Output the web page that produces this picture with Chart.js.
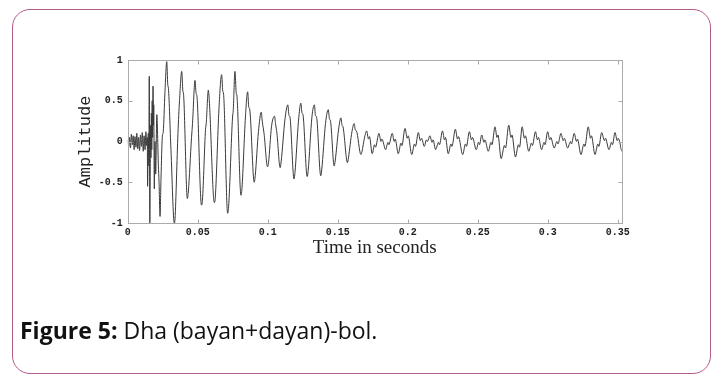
<!DOCTYPE html>
<html>
<head>
<meta charset="utf-8">
<script src="https://cdn.jsdelivr.net/npm/chart.js@4.4.1/dist/chart.umd.min.js"></script>
<style>
  html, body { margin: 0; padding: 0; background: #fff; }
  #page { position: relative; width: 723px; height: 374px; overflow: hidden; }
  #frame { position: absolute; left: 12px; top: 9px; width: 697px; height: 363px;
           border: 1.5px solid #b35a8f; border-radius: 18px; }
  #wrap { position: absolute; left: 0; top: 0; width: 723px; height: 374px; }
  #caption { position: absolute; left: 20px; top: 314px; font-family: "Open Sans", sans-serif;
             font-size: 23px; color: #111; white-space: nowrap; }
  #caption b { font-weight: 700; }
</style>
</head>
<body>
<div id="page">
  <div id="frame"></div>
  <div id="wrap"><canvas id="wave"></canvas></div>
  <div id="caption"><b>Figure 5:</b> Dha (bayan+dayan)-bol.</div>
</div>
<script>
// tick labels
const xTicks = [0, 0.05, 0.1, 0.15, 0.2, 0.25, 0.3, 0.35]
const yTicks = [-1, -0.5, 0, 0.5, 1]

// pre-onset noise
const noiseT = [0, 0.0007, 0.0013, 0.002, 0.0026, 0.0033, 0.0039, 0.0046, 0.0052, 0.0059, 0.0065,
  0.0072, 0.0078, 0.0085, 0.0091, 0.0098, 0.0104, 0.0111, 0.0117, 0.0124, 0.013, 0.0136]
const noiseA = [0.02, -0.06, 0.05, -0.08, 0.09, -0.04, 0.07, -0.1, 0.06, -0.07, 0.1,
  -0.09, 0.05, -0.11, 0.08, -0.06, 0.11, -0.12, 0.07, -0.1, 0.12, -0.05]

// stroke (attack)
const attackT = [0.014, 0.0142, 0.0147, 0.0151, 0.0154, 0.0158, 0.0161, 0.0164, 0.0166, 0.0169,
  0.0172, 0.0175, 0.0178, 0.0181, 0.0184, 0.0186, 0.019, 0.0195, 0.02, 0.0208,
  0.0219, 0.0224, 0.0231, 0.0238, 0.0247, 0.0254, 0.0266, 0.0279, 0.0286, 0.0291]
const attackA = [0.05, -0.55, 0.1, -0.3, 0.8, -1.0, -0.35, 0.2, -0.2, 0.35,
  -0.1, 0.5, 0.05, 0.68, 0.2, 0.45, -0.58, 0, -0.4, 0.33,
  -0.29, -0.5, -0.92, -0.45, 0.05, 0.12, 0.6, 0.98, 0.7, 0.65]

// decay
const decayT = [0.0309, 0.0333, 0.0338, 0.0359, 0.037, 0.0386, 0.0394, 0.0399, 0.0426, 0.0433,
  0.0456, 0.0463, 0.0481, 0.0488, 0.0495, 0.0527, 0.0534, 0.0556, 0.0561, 0.0576,
  0.0583, 0.0619, 0.0626, 0.0652, 0.0671, 0.0679, 0.0685, 0.0714, 0.0721, 0.0749,
  0.0754, 0.0766, 0.0775, 0.0781, 0.0809, 0.0816, 0.0841, 0.0857, 0.0865, 0.0871,
  0.0904, 0.0911, 0.0934, 0.0954, 0.0961, 0.0974, 0.0999, 0.1006, 0.1027, 0.1049,
  0.1056, 0.1066, 0.1089, 0.1096, 0.1124, 0.1144, 0.1152, 0.1159, 0.1188, 0.1195,
  0.122, 0.1237, 0.1245, 0.1252, 0.1282, 0.1289, 0.1316, 0.1334, 0.1341, 0.1349,
  0.1379, 0.1386, 0.1413, 0.1433, 0.1441, 0.1449, 0.1475, 0.1482, 0.1506, 0.1523,
  0.1531, 0.1538, 0.157, 0.1577, 0.1602, 0.1618, 0.1626, 0.1634, 0.1666, 0.1674, 0.1691]
const decayA = [-0.1, -1.0, -0.95, 0.1, 0.5, 0.86, 0.62, 0.58, -0.7, -0.62,
  0.05, 0.22, 0.75, 0.6, 0.55, -0.78, -0.72, 0.15, 0.22, 0.63,
  0.5, -0.75, -0.68, 0.4, 0.82, 0.62, 0.58, -0.88, -0.8, 0.3,
  0.38, 0.86, 0.6, 0.55, -0.66, -0.58, 0.3, 0.61, 0.42, 0.4,
  -0.5, -0.42, 0.12, 0.36, 0.25, 0.1, -0.31, -0.26, 0.18, 0.31,
  0.22, 0.1, -0.32, -0.25, 0.28, 0.45, 0.32, 0.3, -0.46, -0.38,
  0.25, 0.47, 0.35, 0.33, -0.43, -0.36, 0.3, 0.45, 0.32, 0.3,
  -0.42, -0.35, 0.22, 0.39, 0.28, 0.25, -0.3, -0.24, 0.14, 0.29,
  0.2, 0.18, -0.26, -0.2, 0.12, 0.22, 0.14, 0.13, -0.16, -0.12, 0.04]

// sustained tail
const tailT = [0.1707, 0.172, 0.1727, 0.1747, 0.1763, 0.177, 0.1795, 0.1809, 0.1816, 0.1843,
  0.1859, 0.1866, 0.189, 0.1904, 0.1911, 0.1933, 0.1952, 0.1959, 0.1981, 0.1997,
  0.2004, 0.2029, 0.2049, 0.2056, 0.2076, 0.2091, 0.2099, 0.2119, 0.2134, 0.2141,
  0.2159, 0.2174, 0.2181, 0.22, 0.222, 0.2227, 0.2249, 0.2263, 0.227, 0.229,
  0.2309, 0.2316, 0.2341, 0.2356, 0.2363, 0.2393, 0.2413, 0.242, 0.2441, 0.2456,
  0.2463, 0.249, 0.2506, 0.2513, 0.2529, 0.2545, 0.2552, 0.2576, 0.2595, 0.2602,
  0.2624, 0.2638, 0.2645, 0.2668, 0.2691, 0.2699, 0.2722, 0.2738, 0.2745, 0.277,
  0.2791, 0.2799, 0.2818, 0.2834, 0.2841, 0.2865, 0.2884, 0.2891, 0.2913, 0.2927,
  0.2934, 0.2957, 0.2974, 0.2981, 0.3, 0.3015, 0.3022, 0.3047, 0.3066, 0.3074,
  0.3095, 0.3111, 0.3119, 0.3143, 0.3163, 0.317, 0.319, 0.3206, 0.3213, 0.3238,
  0.3259, 0.3266, 0.329, 0.3306, 0.3313, 0.3338, 0.3359, 0.3366, 0.3386, 0.3406,
  0.3413, 0.3438, 0.3456, 0.3463, 0.3481, 0.3497, 0.3504, 0.3529]
const tailA = [0.13, 0.03, 0.06, -0.15, -0.04, -0.07, 0.1, 0, 0.03, -0.1,
  -0.01, -0.04, 0.1, 0, 0.03, -0.15, -0.02, -0.05, 0.16, 0.04,
  0.07, -0.16, -0.03, -0.06, 0.11, 0.01, 0.04, -0.06, 0.02, 0,
  0.07, -0.01, 0.02, -0.1, -0.01, -0.04, 0.13, 0.02, 0.05, -0.15,
  -0.03, -0.06, 0.15, 0.03, 0.06, -0.16, -0.03, -0.06, 0.12, 0.02,
  0.05, -0.1, -0.01, -0.04, 0.08, -0.01, 0.02, -0.12, -0.01, -0.04,
  0.18, 0.05, 0.08, -0.21, -0.05, -0.08, 0.2, 0.05, 0.08, -0.19,
  -0.04, -0.07, 0.18, 0.04, 0.07, -0.12, -0.02, -0.05, 0.12, 0.02,
  0.05, -0.1, -0.01, -0.04, 0.12, 0.02, 0.05, -0.08, 0, -0.03,
  0.1, 0.01, 0.04, -0.08, 0, -0.03, 0.1, 0, 0.03, -0.16,
  -0.03, -0.06, 0.18, 0.04, 0.07, -0.16, -0.03, -0.06, 0.11, 0.01,
  0.04, -0.1, -0.01, -0.04, 0.11, 0.01, 0.04, -0.12]

const times = noiseT.concat(attackT, decayT, tailT)
const amps = noiseA.concat(attackA, decayA, tailA)
const points = times.map((t, i) => ({x: t, y: amps[i]}))

// matlab style box with inward ticks
const boxTicks = {
  id: 'boxTicks',
  afterDraw(chart) {
    const {ctx, chartArea: a, scales} = chart
    const L = Math.round(a.left) + 0.5, R = Math.round(a.right) + 0.5
    const T = Math.round(a.top) + 0.5, B = Math.round(a.bottom) + 0.5
    ctx.save()
    ctx.strokeStyle = '#ababab'
    ctx.lineWidth = 1
    ctx.strokeRect(L, T, R - L, B - T)
    ctx.beginPath()
    scales.x.ticks.forEach(t => {
      const px = Math.round(scales.x.getPixelForValue(t.value)) + 0.5
      ctx.moveTo(px, B); ctx.lineTo(px, B - 4)
      ctx.moveTo(px, T); ctx.lineTo(px, T + 4)
    })
    scales.y.ticks.forEach(t => {
      const py = Math.round(scales.y.getPixelForValue(t.value)) + 0.5
      ctx.moveTo(L, py); ctx.lineTo(L + 4, py)
      ctx.moveTo(R, py); ctx.lineTo(R - 4, py)
    })
    ctx.stroke()
    ctx.restore()
  }
}

const tickFont = {family: '"Liberation Mono", monospace', size: 10, weight: 'bold'}

new Chart('wave', {
  type: 'line',
  data: {
    datasets: [{
      data: points,
      borderColor: '#3a3a3a',
      borderWidth: 1,
      pointRadius: 0,
      cubicInterpolationMode: 'monotone',
      fill: false
    }]
  },
  options: {
    responsive: true,
    maintainAspectRatio: false,
    animation: false,
    devicePixelRatio: 1,
    layout: {padding: {left: 76.5, top: 60, right: 101.3, bottom: 116.5}},
    plugins: {legend: {display: false}, tooltip: {enabled: false}},
    scales: {
      x: {
        type: 'linear',
        min: 0,
        max: 0.3529,
        afterBuildTicks: s => { s.ticks = xTicks.map(v => ({value: v})) },
        afterFit: s => { s.height = 34.5 },
        grid: {display: false, drawTicks: false},
        border: {display: false},
        ticks: {font: tickFont, color: '#222', padding: 3, maxRotation: 0, autoSkip: false,
                callback: v => String(v)},
        title: {display: true, text: 'Time in seconds', color: '#222', padding: 0,
                font: {family: '"Liberation Serif", serif', size: 19, lineHeight: 1}}
      },
      y: {
        min: -1,
        max: 1,
        afterBuildTicks: s => { s.ticks = yTicks.map(v => ({value: v})) },
        afterFit: s => { s.width = 51.2 },
        grid: {display: false, drawTicks: false},
        border: {display: false},
        ticks: {font: tickFont, color: '#222', padding: 5, callback: v => String(v)},
        title: {display: true, text: 'Amplitude', color: '#222', padding: 0,
                font: {family: '"Liberation Mono", monospace', size: 17, lineHeight: 1}}
      }
    }
  },
  plugins: [boxTicks]
})
</script>
</body>
</html>
